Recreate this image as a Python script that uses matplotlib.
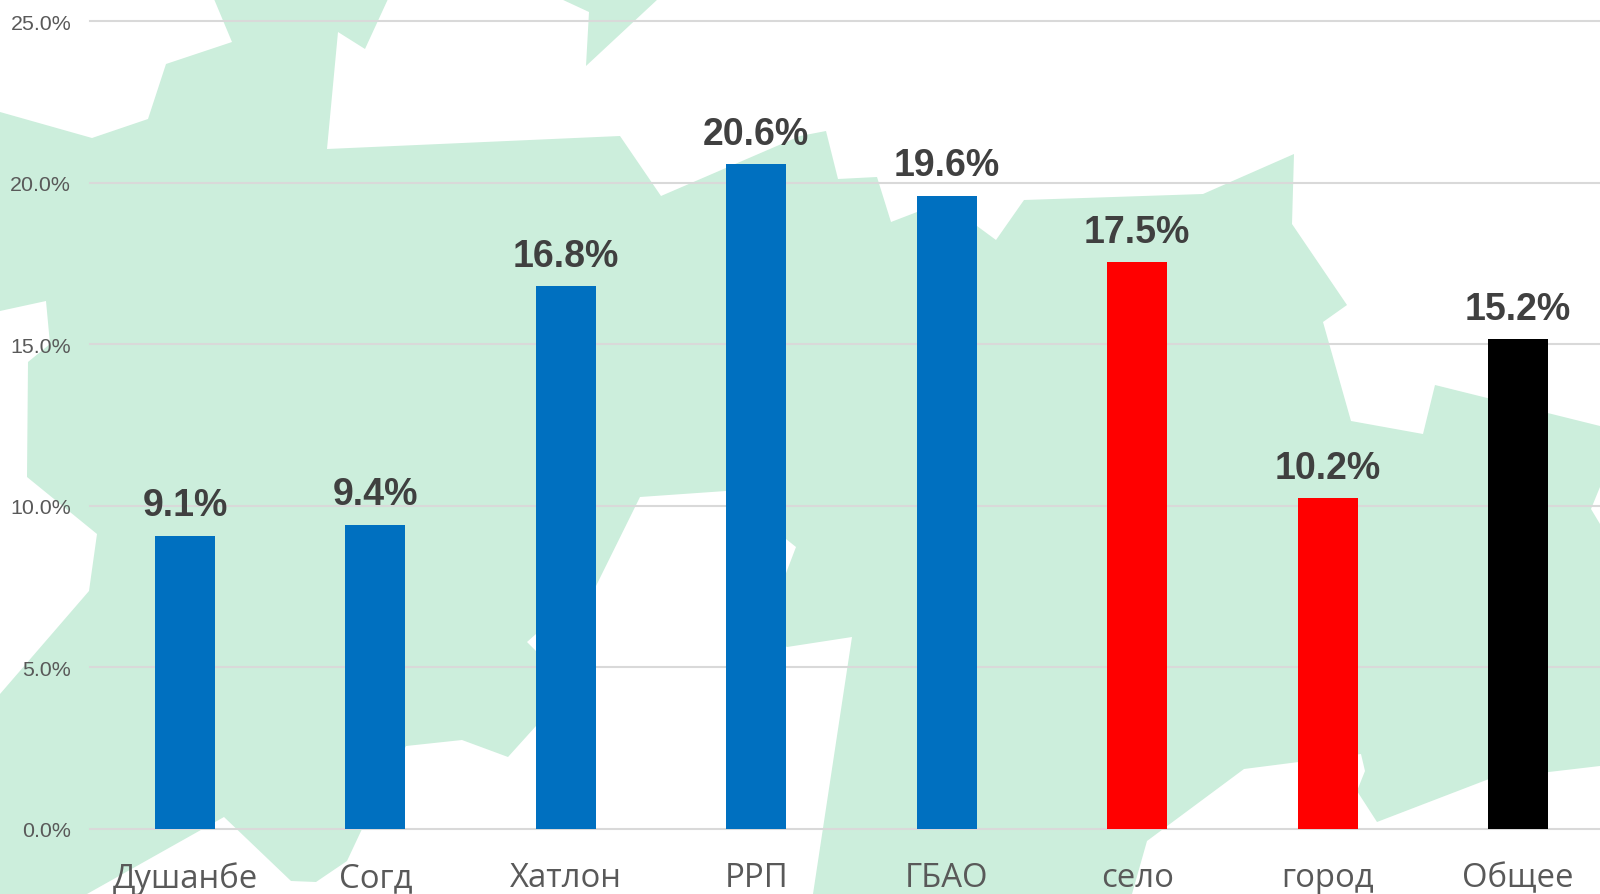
import matplotlib
matplotlib.use("Agg")
import matplotlib.pyplot as plt
from matplotlib.patches import Polygon

categories = ["Душанбе", "Согд", "Хатлон", "РРП", "ГБАО", "село", "город", "Общее"]
values = [9.08, 9.42, 16.79, 20.57, 19.6, 17.53, 10.23, 15.16]
bar_colors = ["#0070C0"] * 5 + ["#FF0000"] * 2 + ["#000000"]
y_ticks = [0, 5, 10, 15, 20, 25]

# Decorative map silhouette behind the chart, in image pixels
map_main = [(214,0),(388,0),(365,50),(338,33),(327,150),(620,137),(661,197),(800,137),(826,132),
    (838,180),(877,178),(891,223),(917,213),(977,227),(996,241),(1024,201),(1203,195),(1294,155),
    (1292,225),(1347,306),(1323,323),(1351,422),(1423,435),(1435,386),(1600,427),(1600,488),
    (1591,510),(1600,525),(1600,767),(1489,780),(1377,823),(1357,792),(1365,772),(1361,755),
    (1244,770),(1147,842),(1132,895),(813,895),(852,638),(787,648),(775,640),(780,590),(796,548),
    (726,492),(640,498),(596,587),(555,620),(536,635),(527,643),(536,652),(555,690),(536,727),
    (508,758),(462,741),(406,747),(362,830),(347,862),(316,883),(291,882),(224,818),(87,895),
    (0,895),(0,695),(89,592),(97,535),(27,478),(28,363),(50,345),(46,302),(0,312),(0,113),
    (92,139),(148,120),(166,65),(232,43)]
map_top = [(561,0),(589,13),(586,67),(658,0)]

W, H = 1600, 895
fig = plt.figure(figsize=(W / 100, H / 100), dpi=100, facecolor="white")

bg = fig.add_axes([0, 0, 1, 1], zorder=0)
bg.set_xlim(0, W)
bg.set_ylim(H, 0)
bg.axis("off")
for outline in (map_main, map_top):
    bg.add_patch(Polygon(outline, closed=True, facecolor="#CCEEDC", edgecolor="none"))

ax = fig.add_axes([89.8 / W, (H - 830.0) / H, (W - 89.8) / W, 808.0 / H], zorder=1)
ax.patch.set_alpha(0)
positions = list(range(len(categories)))
ax.bar(positions, values, width=0.315, color=bar_colors, zorder=3)
ax.set_xlim(-0.5, 7.43)
ax.set_ylim(0, 25)
ax.set_yticks(y_ticks)
ax.set_yticklabels([f"{t:.1f}%" for t in y_ticks], family="Liberation Sans", fontsize=15.4, color="#595959")
ax.set_xticks(positions)
ax.set_xticklabels(categories, family="Open Sans", fontsize=23.7, color="#595959")
ax.tick_params(axis="y", length=0, pad=13.4)
ax.tick_params(axis="x", length=0, pad=23)
ax.grid(axis="y", color="#D9D9D9", linewidth=1.5, zorder=1)
ax.set_axisbelow(True)
for s in ax.spines.values():
    s.set_visible(False)
for g in ax.get_ygridlines():
    g.set_clip_on(False)

for x, v in zip(positions, values):
    ax.annotate(f"{v:.1f}%", (x, v), xytext=(0, 21.8), textcoords="offset points",
                ha="center", va="center", family="Liberation Sans", fontweight="bold",
                fontsize=27, color="#404040", zorder=4)

fig.savefig("out.png", dpi=100)
